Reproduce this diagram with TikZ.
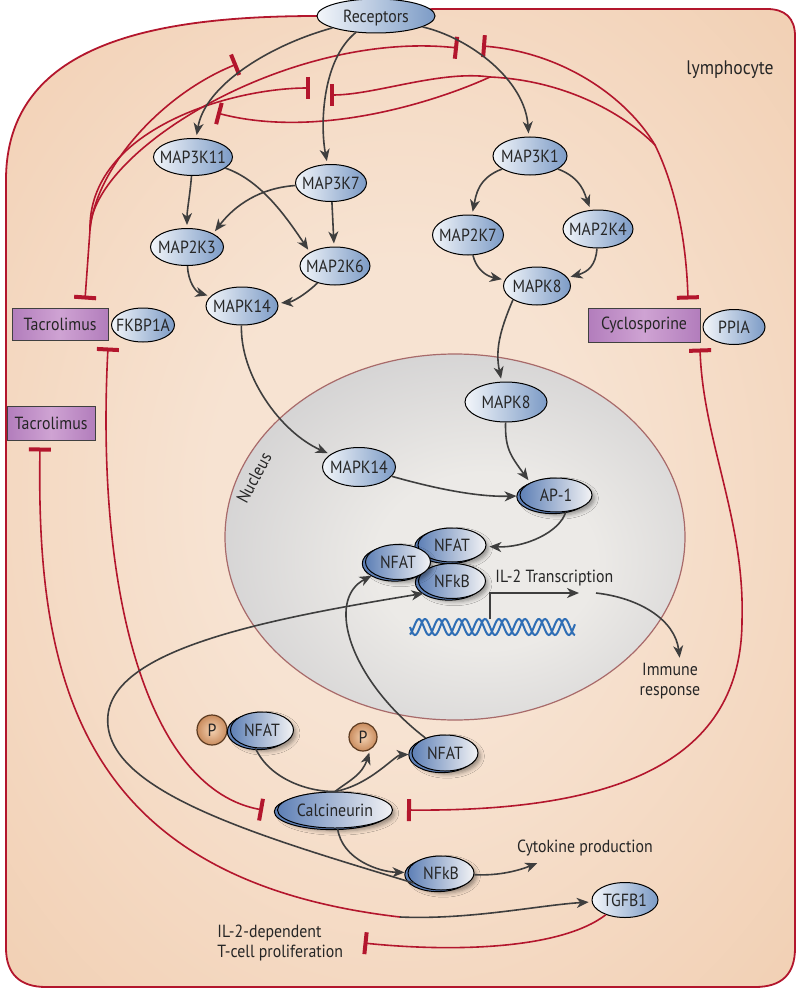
\documentclass[tikz,border=0pt]{standalone}
\usepackage{fontspec}
\setmainfont{PT Sans}[FakeStretch=0.9]
\usetikzlibrary{shapes,arrows.meta,shadows,shadows.blur}
\definecolor{memred}{HTML}{B3162D}
\definecolor{arrgray}{HTML}{3E3E3E}
\definecolor{cellin}{HTML}{F7E3D2}
\definecolor{cellout}{HTML}{EEC4A1}
\definecolor{nucin}{HTML}{ECEAE7}
\definecolor{nucout}{HTML}{B2B2B7}
\definecolor{nucedge}{HTML}{A86A6A}
\definecolor{protlight}{HTML}{F3F6FA}
\definecolor{protdark}{HTML}{7C9BC6}
\definecolor{cplxdark}{HTML}{5E80B6}
\definecolor{cplxlight}{HTML}{F3F3F5}
\definecolor{drugfill}{HTML}{B27DBC}
\definecolor{druglight}{HTML}{CFA3D3}
\definecolor{phosin}{HTML}{F4D2B2}
\definecolor{phosout}{HTML}{C98C5E}
\definecolor{phosedge}{HTML}{5B3A20}
\definecolor{dnablue}{HTML}{2F6EB5}
\pgfdeclareradialshading{cellshade}{\pgfpoint{0bp}{0bp}}{color(0bp)=(cellin); color(12bp)=(cellin); color(50bp)=(cellout); color(75bp)=(cellout)}
\pgfdeclareradialshading{nucshade}{\pgfpoint{4bp}{-4bp}}{color(0bp)=(nucin); color(12bp)=(nucin); color(54bp)=(nucout); color(70bp)=(nucout)}

\begin{document}
\begin{tikzpicture}[x=0.5pt, y=-0.5pt, font=\fontsize{8.8}{10}\selectfont,
  prot/.style={ellipse, draw=black, line width=0.5pt, left color=protlight, right color=protdark, text=black!85,
    inner sep=0pt, minimum width=36pt, minimum height=19pt, text height=6.2pt, text depth=0pt,
    execute at begin node={\hbox to 0pt\bgroup\hss}, execute at end node={\hss\egroup}},
  cplx/.style={prot, left color=cplxdark, right color=cplxlight,
    blur shadow={shadow xshift=1.2pt, shadow yshift=-1.6pt, shadow blur steps=4, shadow blur radius=2pt},
    copy shadow={shadow xshift=-1.6pt, shadow yshift=-0.8pt, fill=cplxdark, draw=black, line width=0.5pt}},
  drug/.style={rectangle, draw=black!75, line width=0.5pt, left color=drugfill, right color=drugfill, middle color=druglight,
    text=black!85, inner sep=0pt, minimum height=16.5pt},
  phos/.style={circle, draw=phosedge, line width=0.6pt, inner color=phosin, outer color=phosout, text=black!85,
    inner sep=0pt, minimum size=15pt},
  lbl/.style={text=black!85, inner sep=1pt},
  arr/.style={-{Stealth[length=6pt, width=5pt, inset=1.8pt]}, line width=0.8pt, arrgray, shorten >=1.5pt},
  inh/.style={line width=0.8pt, memred},
  tee/.style={inh, -{Bar[width=11pt, line width=2pt]}},
  eet/.style={inh, {Bar[width=11pt, line width=2pt]}-},
  teetee/.style={inh, {Bar[width=11pt, line width=2pt]}-{Bar[width=11pt, line width=2pt]}}
]
  \useasboundingbox (0,0) rectangle (800,990);

  \shade[shading=cellshade, draw=memred, line width=0.9pt]
    (318,16) .. controls (150,16) and (6,45) .. (6,180) -- (6,948) .. controls (6,974) and (20,987) .. (46,987)
    -- (755,987) .. controls (782,987) and (795,974) .. (795,948) -- (795,36) .. controls (795,18) and (785,9) .. (767,9)
    -- (434,9) -- cycle;
  \node[ellipse, draw=nucedge, line width=0.6pt, shading=nucshade, inner sep=0pt,
    minimum width=230pt, minimum height=183pt] (nuc) at (455,537) {};
  \node[lbl, rotate=62] (nuclbl) at (254,478) {Nucleus};
  \draw[dnablue, line width=1pt] plot[domain=410:575, samples=140] (\x, {627+8*sin(18*(\x-410))});
  \draw[dnablue, line width=1pt] plot[domain=410:575, samples=140] (\x, {627+8*sin(18*(\x-410)+110)});

  \node[prot, minimum width=59pt, minimum height=17pt] (rec) at (376,16) {Receptors};
  \node[prot, minimum width=39.5pt, minimum height=18.5pt] (m3k11) at (193,157) {MAP3K11};
  \node[prot, minimum width=35.5pt, minimum height=18.5pt] (m3k7) at (331,183) {MAP3K7};
  \node[prot, minimum width=36.5pt, minimum height=18.5pt] (m2k3) at (187,247) {MAP2K3};
  \node[prot, minimum width=35pt] (m2k6) at (335,266) {MAP2K6};
  \node[prot, minimum width=36pt] (p38) at (242,306) {MAPK14};
  \node[prot, minimum width=37pt] (m3k1) at (530,156) {MAP3K1};
  \node[prot, minimum width=35.5pt, minimum height=20pt] (m2k7) at (468,235) {MAP2K7};
  \node[prot, minimum width=35pt] (m2k4) at (598,229) {MAP2K4};
  \node[prot, minimum width=33.5pt] (jnk) at (537,286) {MAPK8};

  \node[drug, minimum width=48pt, minimum height=16pt] (tac1) at (60,324) {Tacrolimus};
  \node[prot, minimum width=31.5pt, minimum height=17pt] (fkbp) at (143,325) {FKBP1A};
  \node[drug, minimum width=44pt, minimum height=17pt] (tac2) at (51,423) {Tacrolimus};
  \node[drug, minimum width=56pt, minimum height=17pt] (cyc) at (644,325) {Cyclosporine};
  \node[prot, minimum width=31pt, minimum height=17.5pt] (ppia) at (734,327) {PPIA};

  \node[prot, minimum width=41pt, minimum height=20pt] (jnkn) at (506,402) {MAPK8};
  \node[prot, minimum width=36.5pt, minimum height=19.5pt] (p38n) at (359,467) {MAPK14};
  \node[cplx, minimum width=36pt, minimum height=17pt] (ap1) at (556,495) {AP-1};
  \node[cplx, minimum width=34pt, minimum height=17pt] (nfat1) at (452,545) {NFAT};
  \node[cplx, minimum width=33.5pt, minimum height=17.5pt] (nfkbn) at (452,581) {NFkB};
  \node[cplx, minimum width=32.5pt, minimum height=17.5pt] (nfat2) at (398,562) {NFAT};
  \node[lbl, anchor=west] (il2) at (493,578) {IL-2 Transcription};
  \node[lbl, align=center] (immune) at (670,681) {Immune\\response};

  \node[phos] (pp) at (212,730) {P};
  \node[cplx, minimum width=31.5pt, minimum height=18pt] (nfatp) at (262,730) {NFAT};
  \node[phos, minimum size=14pt] (pfree) at (363,737) {P};
  \node[cplx, minimum width=33pt, minimum height=18pt] (nfatc) at (445,753) {NFAT};
  \node[cplx, minimum width=57.5pt, minimum height=18pt] (cn) at (335,810) {Calcineurin};
  \node[cplx, minimum width=33pt, minimum height=17pt] (nfkbc) at (441,873) {NFkB};
  \node[prot, minimum width=33pt, minimum height=17.5pt] (tgfb) at (625,900) {TGFB1};
  \node[lbl] (cytok) at (585,848) {Cytokine production};
  \node[lbl, align=left, anchor=west] (prolif) at (215,943) {IL-2-dependent\\T-cell proliferation};
  \node[lbl, font=\fontsize{9.8}{11}\selectfont] (lympho) at (730,70) {lymphocyte};

  \coordinate (jL) at (90,230);
  \coordinate (b11L) at (237,64);
  \coordinate (b7L) at (310,88);
  \coordinate (b1L) at (458,48);
  \coordinate (jR) at (655,145);
  \coordinate (jR2) at (490,77);
  \coordinate (b1R) at (482,46);
  \coordinate (b7R) at (330,95);
  \coordinate (b11R) at (217,113);
  \coordinate (tss) at (490,619);
  \coordinate (txend) at (582,593);
  \coordinate (txout) at (596,593);
  \coordinate (cytoend) at (540,862);
  \coordinate (tgmid) at (400,917);

  \draw[teetee] ([xshift=12.5pt,yshift=4pt]tac1.north) -- (jL) .. controls (95,170) and (160,95) .. (b11L);
  \draw[tee] (jL) .. controls (92,150) and (290,30) .. (b1L);
  \draw[tee] (jL) .. controls (88,130) and (230,88) .. (b7L);
  \draw[teetee] ([xshift=22pt,yshift=4pt]cyc.north) .. controls (686,230) and (672,180) .. (jR)
    .. controls (625,95) and (560,52) .. (b1R);
  \draw[inh] (jR) .. controls (620,110) and (560,80) .. (jR2);
  \draw[tee] (jR2) .. controls (440,70) and (375,95) .. (b7R);
  \draw[tee] (jR2) .. controls (440,100) and (320,140) .. (b11R);
  \draw[teetee] ([xshift=24pt,yshift=-3.5pt]tac1.south) .. controls (95,600) and (150,790) .. ([xshift=-7pt]cn.west);
  \draw[teetee] ([xshift=28pt,yshift=-3pt]cyc.south) .. controls (703,440) and (745,520) .. (742,620)
    .. controls (742,760) and (620,812) .. ([xshift=7pt]cn.east);
  \draw[eet] ([xshift=-5.5pt,yshift=-3.5pt]tac2.south) .. controls (36,680) and (80,880) .. (tgmid);
  \draw[tee] (tgfb) .. controls (560,950) and (450,952) .. ([xshift=9pt]prolif.east);

  \draw[arr] (rec) .. controls (270,45) and (205,85) .. (m3k11);
  \draw[arr] (rec) .. controls (322,60) and (320,125) .. (m3k7);
  \draw[arr] (rec) .. controls (470,38) and (525,80) .. (m3k1);
  \draw[arr] (m3k11) .. controls (190,195) and (187,210) .. (m2k3);
  \draw[arr] (m3k11) .. controls (260,180) and (285,215) .. (m2k6.north west);
  \draw[arr] (m3k7) .. controls (260,188) and (235,205) .. (m2k3.north east);
  \draw[arr] (m3k7) -- (m2k6);
  \draw[arr] (m2k3) .. controls (188,282) and (196,292) .. (p38);
  \draw[arr] (m2k6) .. controls (305,295) and (292,302) .. (p38);
  \draw[arr] (m3k1.205) .. controls (478,178) and (476,195) .. (m2k7);
  \draw[arr] (m3k1.335) .. controls (582,178) and (585,195) .. (m2k4);
  \draw[arr] (m2k7) .. controls (476,268) and (485,276) .. (jnk);
  \draw[arr] (m2k4) .. controls (596,265) and (588,272) .. (jnk);
  \draw[arr] (jnk.south west) .. controls (500,330) and (495,350) .. (jnkn);
  \draw[arr] (p38) .. controls (240,375) and (280,432) .. (p38n);
  \draw[arr] (p38n) .. controls (440,490) and (480,497) .. (ap1);
  \draw[arr] (jnkn) .. controls (505,448) and (510,455) .. (ap1.north west);
  \draw[arr] (ap1.300) .. controls (560,532) and (525,548) .. (nfat1);
  \draw[arr] (tss) |- (txend);
  \draw[arr] (txout) .. controls (640,598) and (675,620) .. ([xshift=5pt]immune.north);
  \draw[arr] (nfkbc.200) .. controls (255,835) and (100,790) .. (108,715)
    .. controls (115,650) and (260,620) .. (nfkbn.205);
  \draw[arr] (nfatc) .. controls (350,680) and (325,600) .. (nfat2);
  \draw[arrgray, line width=0.8pt] (nfatp.250) .. controls (270,780) and (310,792) .. (cn.north);
  \draw[arr] (cn.north) .. controls (350,780) and (362,775) .. (pfree.-60);
  \draw[arr] (cn.north) .. controls (370,785) and (395,755) .. (nfatc);
  \draw[arr] (cn) .. controls (342,860) and (380,872) .. (nfkbc);
  \draw[arr] (nfkbc) .. controls (500,876) and (520,870) .. (cytoend);
  \draw[arr] (tgmid) .. controls (470,920) and (540,905) .. (tgfb);
\end{tikzpicture}
\end{document}
